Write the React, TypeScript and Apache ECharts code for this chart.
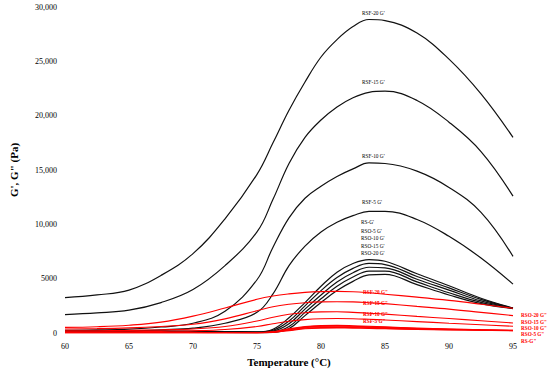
import React, { useEffect, useRef } from "react";
import * as echarts from "echarts";

const temps = [60, 62.5, 65, 67.5, 70, 72.5, 75, 76.25, 77.5, 78.75, 80, 81.25, 82.5, 83.75, 85, 87.5, 90, 92.5, 95];

// G' (storage modulus), black
const rsf20G1 = [3250, 3500, 3950, 5300, 7300, 10500, 14600, 17500, 20500, 23100, 25400, 27000, 28200, 28850, 28750, 27600, 25200, 22000, 18000];
const rsf15G1 = [1700, 1850, 2100, 2800, 4000, 6200, 9300, 12300, 15600, 18000, 19600, 20800, 21650, 22150, 22250, 21400, 19400, 16700, 12600];
const rsf10G1 = [250, 280, 350, 550, 900, 2000, 4900, 7900, 10600, 12400, 13500, 14400, 15100, 15650, 15600, 14900, 13400, 11100, 7050];
const rsf5G1 = [150, 160, 200, 300, 450, 900, 1900, 3600, 6200, 8000, 9300, 10200, 10800, 11200, 11200, 10450, 8900, 6900, 4500];
const rsG1 = [220, 215, 205, 190, 170, 140, 100, 350, 1400, 2800, 4300, 5600, 6400, 6750, 6600, 5450, 4350, 3200, 2300];
const rso5G1 = [180, 175, 165, 150, 130, 110, 80, 250, 1100, 2500, 3900, 5100, 5950, 6400, 6300, 5200, 4150, 3100, 2290];
const rso10G1 = [150, 145, 135, 120, 100, 85, 60, 170, 850, 2200, 3500, 4700, 5550, 6050, 6000, 4950, 3950, 2950, 2280];
const rso15G1 = [120, 115, 105, 95, 80, 65, 45, 110, 600, 1900, 3150, 4300, 5150, 5700, 5700, 4700, 3700, 2820, 2260];
const rso20G1 = [100, 95, 85, 75, 60, 45, 30, 60, 400, 1600, 2800, 3900, 4750, 5350, 5400, 4450, 3500, 2700, 2250];

// G'' (loss modulus), red
const rsf20G2 = [520, 580, 720, 1000, 1550, 2300, 3100, 3400, 3600, 3740, 3810, 3830, 3800, 3700, 3570, 3300, 3000, 2650, 2280];
const rsf15G2 = [370, 400, 470, 600, 800, 1300, 2050, 2420, 2650, 2790, 2860, 2880, 2860, 2790, 2700, 2450, 2200, 1900, 1600];
const rsf10G2 = [200, 210, 240, 290, 370, 600, 1100, 1450, 1720, 1870, 1940, 1950, 1900, 1820, 1740, 1530, 1330, 1130, 920];
const rsf5G2 = [100, 105, 120, 150, 200, 320, 600, 850, 1080, 1230, 1310, 1330, 1310, 1260, 1200, 1050, 900, 760, 620];
const rsG2 = [40, 40, 40, 40, 40, 35, 30, 120, 380, 590, 680, 700, 670, 620, 560, 450, 370, 300, 250];
const rso5G2 = [35, 35, 35, 35, 35, 32, 28, 100, 340, 540, 630, 640, 620, 570, 520, 420, 350, 290, 240];
const rso10G2 = [30, 30, 30, 30, 30, 28, 25, 85, 300, 490, 570, 580, 560, 515, 470, 390, 330, 275, 230];
const rso15G2 = [25, 25, 25, 25, 25, 22, 20, 70, 260, 440, 510, 520, 505, 470, 430, 360, 310, 260, 220];
const rso20G2 = [20, 20, 20, 20, 20, 18, 15, 55, 220, 390, 450, 460, 450, 420, 390, 330, 290, 250, 210];

const blackSeries: [string, number[]][] = [
  ["RSF-20 G'", rsf20G1],
  ["RSF-15 G'", rsf15G1],
  ["RSF-10 G'", rsf10G1],
  ["RSF-5 G'", rsf5G1],
  ["RS-G'", rsG1],
  ["RSO-5 G'", rso5G1],
  ["RSO-10 G'", rso10G1],
  ["RSO-15 G'", rso15G1],
  ["RSO-20 G'", rso20G1],
];
const redSeries: [string, number[]][] = [
  ['RSF-20 G"', rsf20G2],
  ['RSF-15 G"', rsf15G2],
  ['RSF-10 G"', rsf10G2],
  ['RSF-5 G"', rsf5G2],
  ['RS-G"', rsG2],
  ['RSO-5 G"', rso5G2],
  ['RSO-10 G"', rso10G2],
  ['RSO-15 G"', rso15G2],
  ['RSO-20 G"', rso20G2],
];

// annotation labels: [text, x, y]
const blackLabels: [string, number, number][] = [
  ["RSF-20 G'", 362, 13],
  ["RSF-15 G'", 362, 82],
  ["RSF-10 G'", 362, 156],
  ["RSF-5 G'", 362, 202],
  ["RS-G'", 361, 222],
  ["RSO-5 G'", 361, 230.5],
  ["RSO-10 G'", 361, 238],
  ["RSO-15 G'", 361, 245.5],
  ["RSO-20 G'", 361, 253],
];
const redLabels: [string, number, number][] = [
  ['RSF-20 G"', 363, 292],
  ['RSF-15 G"', 363, 303],
  ['RSF-10 G"', 363, 313.5],
  ['RSF-5 G"', 363, 321],
  ['RSO-20 G"', 521, 315],
  ['RSO-15 G"', 521, 321.5],
  ['RSO-10 G"', 521, 328],
  ['RSO-5 G"', 521, 334],
  ['RS-G"', 521, 340.5],
];

const FONT = "'Liberation Serif', 'DejaVu Serif', serif";

export default function App() {
  const ref = useRef<HTMLDivElement>(null);
  useEffect(() => {
    if (!ref.current) return;
    const chart = echarts.init(ref.current, null, { renderer: "svg" });
    const mk = (name: string, vals: number[], color: string, width: number, z: number) => ({
      name,
      type: "line",
      data: temps.map((t, i) => [t, vals[i]]),
      showSymbol: false,
      symbol: "none",
      smooth: 0.4,
      lineStyle: { color, width },
      z,
      silent: true,
    });
    const series = [
      ...blackSeries.map(([n, v]) => mk(n, v, "#111111", 1.2, 2)),
      ...redSeries.map(([n, v]) => mk(n, v, "#ff0000", 1.1, 3)),
    ];
    const graphic = [
      ...blackLabels.map(([t, x, y]) => ({
        type: "text",
        x,
        y,
        style: { text: t, fill: "#000", fontSize: 5.3, fontFamily: FONT, textAlign: "left", textVerticalAlign: "middle" },
      })),
      ...redLabels.map(([t, x, y]) => ({
        type: "text",
        x,
        y,
        style: { text: t, fill: "#ff0000", fontSize: 5.2, fontWeight: "bold", fontFamily: FONT, textAlign: "left", textVerticalAlign: "middle" },
      })),
    ];
    chart.setOption({
      animation: false,
      backgroundColor: "#ffffff",
      grid: { left: 54.5, right: 37, top: 7, bottom: 38, containLabel: false },
      xAxis: {
        type: "value",
        min: 60,
        max: 95,
        interval: 5,
        name: "Temperature (°C)",
        nameLocation: "middle",
        nameGap: 23,
        nameTextStyle: { fontFamily: FONT, fontWeight: "bold", fontSize: 11, color: "#000" },
        axisLine: { show: false },
        axisTick: { show: false },
        splitLine: { show: false },
        axisLabel: { fontFamily: FONT, fontSize: 8, color: "#000", margin: 9 },
      },
      yAxis: {
        type: "value",
        min: 0,
        max: 30000,
        interval: 5000,
        name: "G', G\" (Pa)",
        nameLocation: "middle",
        nameGap: 46,
        nameRotate: 90,
        nameTextStyle: { fontFamily: FONT, fontWeight: "bold", fontSize: 11, color: "#000" },
        axisLine: { show: false },
        axisTick: { show: false },
        splitLine: { show: false },
        axisLabel: {
          fontFamily: FONT,
          fontSize: 8,
          color: "#000",
          margin: 8,
          formatter: (v: number) => (v >= 10000 ? v.toLocaleString("en-US") : String(v)),
        },
      },
      series,
      graphic,
    });
    return () => chart.dispose();
  }, []);
  return <div ref={ref} style={{ width: 550, height: 372, position: "absolute", left: 0, top: 0 }} />;
}
